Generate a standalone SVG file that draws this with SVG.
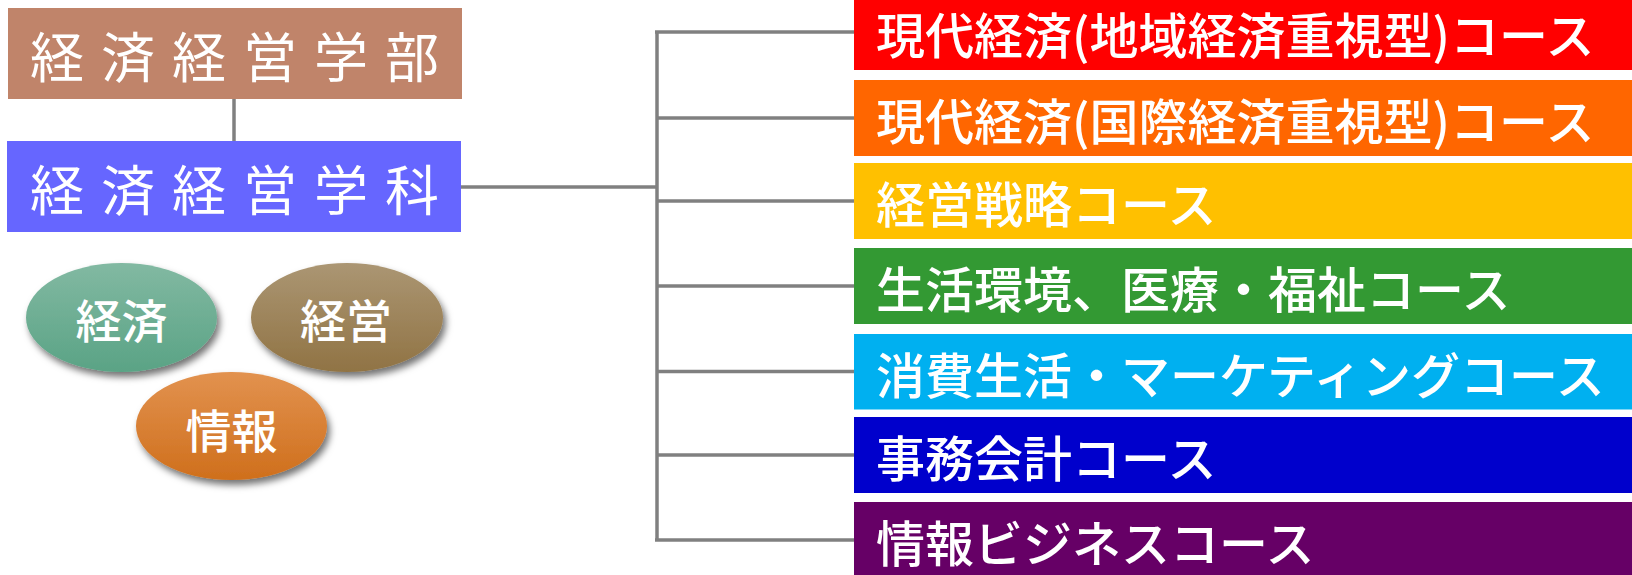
<svg xmlns="http://www.w3.org/2000/svg" width="1632" height="575" viewBox="0 0 1632 575">
<style>
.conn{stroke:#808080;stroke-width:3.5;fill:none;stroke-linecap:butt}
.head{font-family:"Noto Sans CJK JP","Noto Sans CJK SC",sans-serif;font-size:54px;font-weight:400;fill:#fff;letter-spacing:17px}
.ell{font-family:"Noto Sans CJK JP","Noto Sans CJK SC",sans-serif;font-size:46px;font-weight:500;fill:#fff;text-anchor:middle}
.course{font-family:"Noto Sans CJK JP","Noto Sans CJK SC",sans-serif;font-size:49px;font-weight:500;fill:#fff}
</style>
<defs>
<linearGradient id="gEco" x1="0" y1="0" x2="0" y2="1"><stop offset="0" stop-color="#82B9A2"/><stop offset="1" stop-color="#5AA385"/></linearGradient>
<linearGradient id="gMan" x1="0" y1="0" x2="0" y2="1"><stop offset="0" stop-color="#AB9673"/><stop offset="1" stop-color="#907344"/></linearGradient>
<linearGradient id="gInf" x1="0" y1="0" x2="0" y2="1"><stop offset="0" stop-color="#E2924F"/><stop offset="1" stop-color="#CF6F1C"/></linearGradient>
<filter id="sh" x="-20%" y="-20%" width="140%" height="150%"><feDropShadow dx="3" dy="5" stdDeviation="3.5" flood-color="#000" flood-opacity="0.55"/></filter>
</defs>
<g id="connectors">
<line class="conn" x1="234" y1="99" x2="234" y2="141"/>
<line class="conn" x1="461" y1="187" x2="657" y2="187"/>
<line class="conn" x1="657" y1="32" x2="657" y2="540"/>
<line class="conn" x1="655" y1="32" x2="854" y2="32"/>
<line class="conn" x1="657" y1="118" x2="854" y2="118"/>
<line class="conn" x1="657" y1="201" x2="854" y2="201"/>
<line class="conn" x1="657" y1="286" x2="854" y2="286"/>
<line class="conn" x1="657" y1="371.5" x2="854" y2="371.5"/>
<line class="conn" x1="657" y1="455" x2="854" y2="455"/>
<line class="conn" x1="655" y1="540" x2="854" y2="540"/>
</g>
<g id="faculty"><rect x="8" y="8" width="454" height="91" fill="#C0846A"/><text class="head" x="30" y="78">経済経営学部</text></g>
<g id="department"><rect x="7" y="141" width="454" height="91" fill="#6666FF"/><text class="head" x="30" y="211">経済経営学科</text></g>
<g id="economics"><ellipse cx="121.5" cy="317.5" rx="95.5" ry="54.5" fill="url(#gEco)" filter="url(#sh)"/><text class="ell" x="121.5" y="338">経済</text></g>
<g id="management"><ellipse cx="347" cy="317.5" rx="96" ry="54.5" fill="url(#gMan)" filter="url(#sh)"/><text class="ell" x="346" y="338">経営</text></g>
<g id="information"><ellipse cx="231.5" cy="426" rx="95.5" ry="54" fill="url(#gInf)" filter="url(#sh)"/><text class="ell" x="231.5" y="448">情報</text></g>
<g id="course1"><rect x="854" y="-6" width="778" height="76" fill="#FF0000"/><text class="course" x="876" y="54">現代経済(地域経済重視型)コース</text></g>
<g id="course2"><rect x="854" y="80" width="778" height="76" fill="#FF6600"/><text class="course" x="876" y="140">現代経済(国際経済重視型)コース</text></g>
<g id="course3"><rect x="854" y="163" width="778" height="76" fill="#FFC000"/><text class="course" x="876" y="223">経営戦略コース</text></g>
<g id="course4"><rect x="854" y="248" width="778" height="76" fill="#339933"/><text class="course" x="876" y="308">生活環境、医療・福祉コース</text></g>
<g id="course5"><rect x="854" y="334" width="778" height="75.5" fill="#00B0F0"/><text class="course" x="876" y="394">消費生活・マーケティングコース</text></g>
<g id="course6"><rect x="854" y="417" width="778" height="76" fill="#0000CC"/><text class="course" x="876" y="477">事務会計コース</text></g>
<g id="course7"><rect x="854" y="502" width="778" height="76" fill="#660066"/><text class="course" x="876" y="562">情報ビジネスコース</text></g>
</svg>
